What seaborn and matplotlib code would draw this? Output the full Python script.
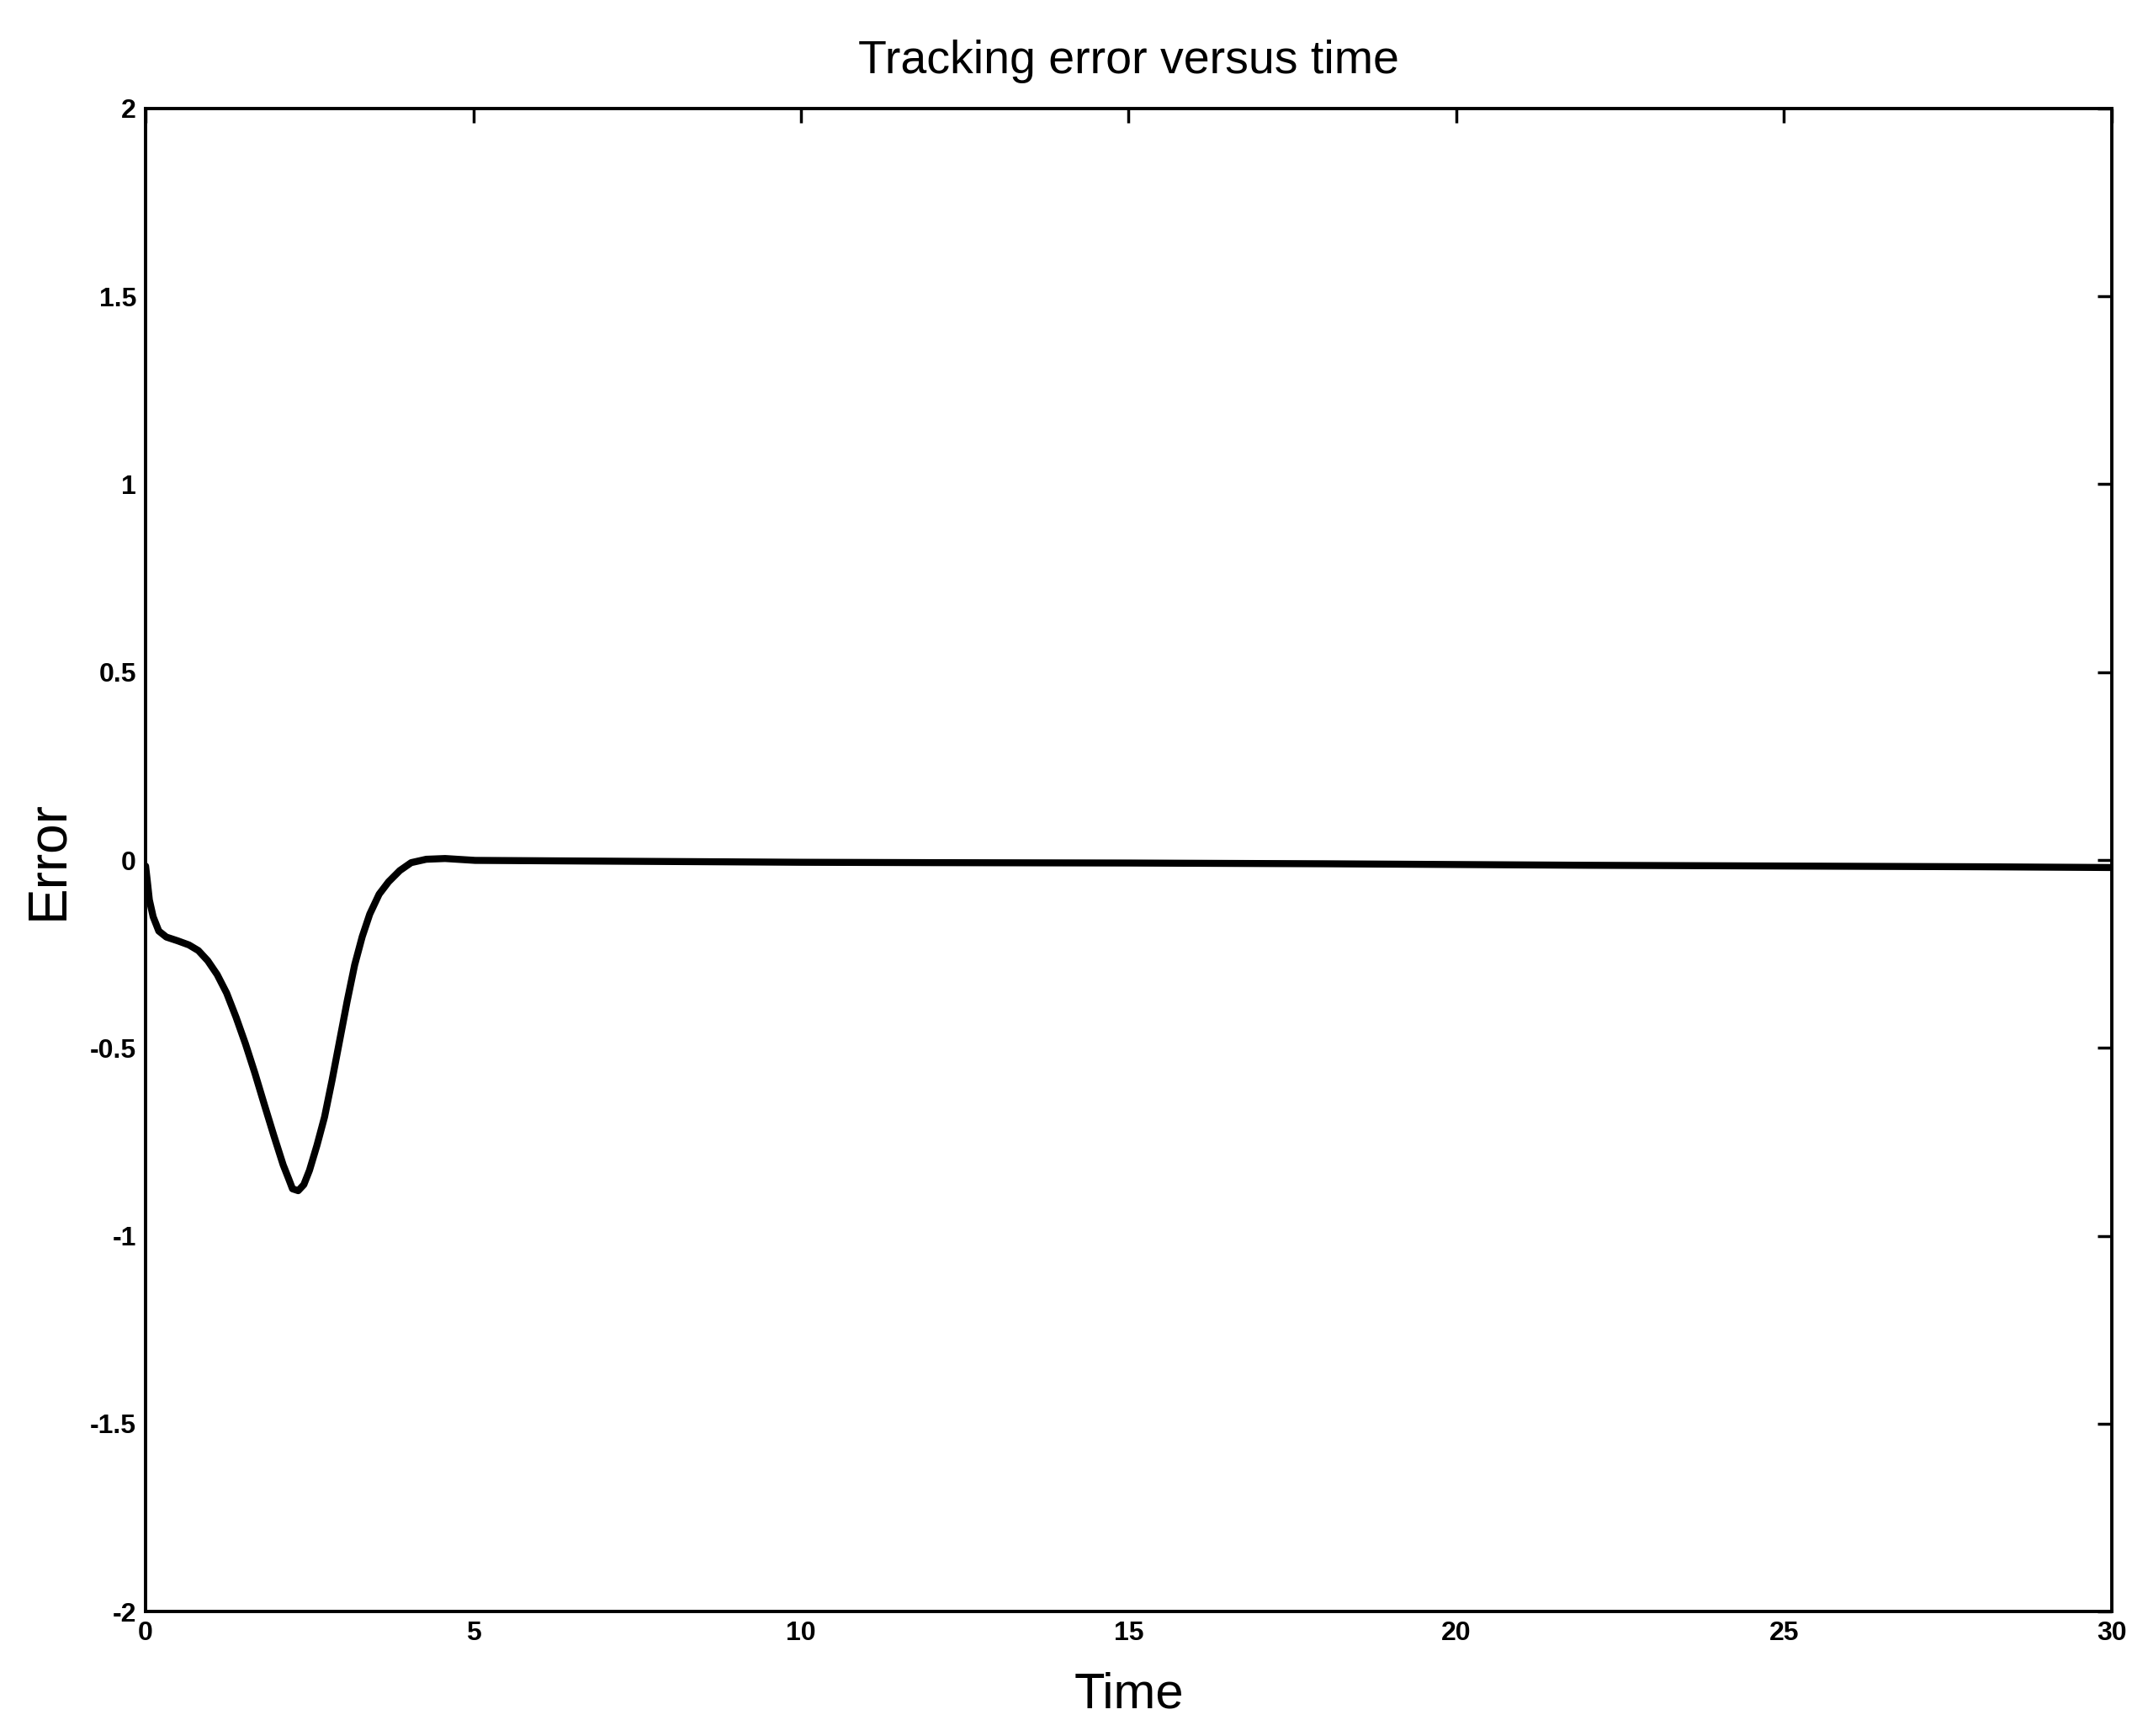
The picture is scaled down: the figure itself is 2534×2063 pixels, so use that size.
import numpy as np
import pandas as pd
import matplotlib
matplotlib.use('Agg')
import matplotlib.pyplot as plt
import seaborn as sns

# tracking error
time = [0.0, 0.029, 0.057, 0.115, 0.201, 0.316, 0.489, 0.661, 0.805, 0.948, 1.092,
        1.236, 1.379, 1.523, 1.667, 1.810, 1.954, 2.098, 2.184, 2.241, 2.328, 2.414,
        2.500, 2.615, 2.730, 2.845, 2.960, 3.075, 3.190, 3.305, 3.420, 3.563, 3.707,
        3.879, 4.052, 4.282, 4.569, 5.029, 8.0, 10.0, 12.0, 15.0, 18.0, 20.0, 22.0,
        25.0, 28.0, 30.0]
error = [-0.016, -0.061, -0.106, -0.151, -0.189, -0.205, -0.215, -0.226, -0.241,
         -0.268, -0.305, -0.354, -0.418, -0.489, -0.567, -0.650, -0.732, -0.811,
         -0.849, -0.875, -0.880, -0.864, -0.826, -0.759, -0.684, -0.586, -0.481,
         -0.376, -0.279, -0.204, -0.144, -0.091, -0.058, -0.028, -0.007, 0.002, 0.004,
         -0.001, -0.004, -0.006, -0.007, -0.008, -0.010, -0.012, -0.014, -0.016,
         -0.018, -0.020]

xticks = [0, 5, 10, 15, 20, 25, 30]
yticks = [-2, -1.5, -1, -0.5, 0, 0.5, 1, 1.5, 2]
ytick_labels = ['-2', '-1.5', '-1', '-0.5', '0', '0.5', '1', '1.5', '2']

df = pd.DataFrame({'Time': time, 'Error': error})

sns.set_style('white')
plt.rcParams['font.family'] = ['Liberation Sans', 'DejaVu Sans']
plt.rcParams['text.color'] = 'black'
plt.rcParams['axes.labelcolor'] = 'black'

fig = plt.figure(figsize=(25.34, 20.63), dpi=100)
ax = fig.add_axes([0.0683, 0.0717, 0.9222, 0.8658])

sns.lineplot(data=df, x='Time', y='Error', ax=ax, color='black', linewidth=6,
             estimator=None, sort=False)

ax.set_xlim(0, 30)
ax.set_ylim(-2, 2)
ax.set_xticks(xticks)
ax.set_xticklabels([str(v) for v in xticks])
ax.set_yticks(yticks)
ax.set_yticklabels(ytick_labels)

for s in ax.spines.values():
    s.set_color('black')
    s.set_linewidth(2.8)

ax.tick_params(direction='in', length=12, width=2.5, top=True, right=True,
               labelsize=23, pad=8, colors='black')
for lab in ax.get_xticklabels() + ax.get_yticklabels():
    lab.set_fontweight('bold')

ax.set_title('Tracking error versus time', fontsize=40, pad=30)
ax.set_xlabel('Time', fontsize=43, labelpad=22)
ax.set_ylabel('Error', fontsize=46, labelpad=14)

fig.savefig('out.png', dpi=100, facecolor='white')
